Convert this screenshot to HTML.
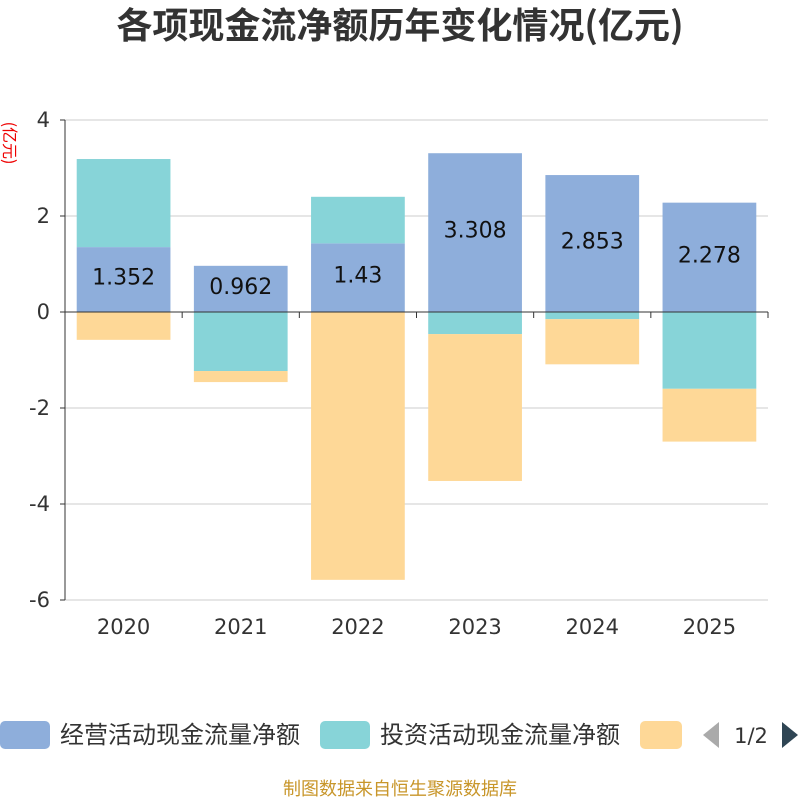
<!DOCTYPE html>
<html><head><meta charset="utf-8"><style>
body{margin:0;background:#fff;}
svg text{font-family:"DejaVu Sans","Noto Sans CJK SC",sans-serif;}
.cjk{font-family:"Noto Sans CJK SC",sans-serif;}
</style></head><body>
<svg id="c" width="800" height="800" xmlns="http://www.w3.org/2000/svg">
<text class="cjk" x="400" y="38" text-anchor="middle" font-size="36" font-weight="bold" fill="#333">各项现金流净额历年变化情况(亿元)</text>
<text class="cjk" transform="translate(4,143) rotate(90)" text-anchor="middle" font-size="16" fill="#e00">(亿元)</text>
<g id="grid"></g><g id="bars"></g><g id="axes"></g>
<g>
<rect x="0" y="721" width="50" height="28" rx="5" fill="#8eaedb"/>
<text class="cjk" x="60" y="743" font-size="24" fill="#333">经营活动现金流量净额</text>
<rect x="320" y="721" width="50" height="28" rx="5" fill="#87d4d8"/>
<text class="cjk" x="380" y="743" font-size="24" fill="#333">投资活动现金流量净额</text>
<rect x="640" y="721" width="42" height="28" rx="5" fill="#fed897"/>
<polygon points="719,722 719,748 703,735" fill="#aaa"/>
<text x="751" y="743" text-anchor="middle" font-size="21" fill="#333">1/2</text>
<polygon points="782,722 782,748 798,735" fill="#2f4554"/>
</g>
<text class="cjk" x="400" y="795" text-anchor="middle" font-size="18" fill="#c8962a">制图数据来自恒生聚源数据库</text>
</svg>
<script>
const categories=["2020","2021","2022","2023","2024","2025"];
const operating=[1.352,0.962,1.43,3.308,2.853,2.278];
const investing=[1.835,-1.23,0.97,-0.46,-0.15,-1.60];
const financing=[-0.58,-0.23,-5.58,-3.06,-0.94,-1.10];
const yTicks=[4,2,0,-2,-4,-6];
const NS="http://www.w3.org/2000/svg";
const L=65,R=768,T=120,B=600,yMax=4,yMin=-6;
const y=v=>T+(yMax-v)/(yMax-yMin)*(B-T);
const band=(R-L)/categories.length;
const xc=i=>L+band*(i+0.5);
function mk(tag,at,parent){const e=document.createElementNS(NS,tag);for(const k in at)e.setAttribute(k,at[k]);document.getElementById(parent).appendChild(e);return e;}
yTicks.forEach(t=>{
 const g=mk('line',{x1:L,x2:R,y1:y(t),y2:y(t),stroke:'#ccc','stroke-width':1},'grid');
 
 
 const tl=mk('text',{x:L-15,y:y(t)+7,'text-anchor':'end','font-size':21,fill:'#333'},'axes');
 tl.textContent=t;
 
 
 const tk=mk('line',{x1:L-5,x2:L,y1:y(t),y2:y(t),stroke:'#333'},'axes');
 
 
});
const ya=mk('line',{x1:L,x2:L,y1:T,y2:B,stroke:'#333'},'axes');


const series=[[operating,'#8eaedb','operating'],[investing,'#87d4d8','investing'],[financing,'#fed897','financing']];
const bw=band*0.8;
categories.forEach((c,i)=>{
 let pos=0,neg=0;
 series.forEach(([arr,col,nm])=>{
  const v=arr[i];let a,b;
  if(v>=0){a=pos;b=pos+v;pos=b;}else{a=neg;b=neg+v;neg=b;}
  const r=mk('rect',{x:xc(i)-bw/2,y:Math.min(y(a),y(b)),width:bw,height:Math.abs(y(a)-y(b)),fill:col},'bars');
  
  
 });
 const lb=mk('text',{x:xc(i),y:(y(0)+y(operating[i]))/2+5,'text-anchor':'middle','font-size':22,fill:'#111'},'bars');
 lb.textContent=operating[i];
 
 
 const xl=mk('text',{x:xc(i),y:634,'text-anchor':'middle','font-size':21,fill:'#333'},'axes');
 xl.textContent=c;
 
 
});
for(let i=0;i<=categories.length;i++){
 const t=mk('line',{x1:L+band*i,x2:L+band*i,y1:y(0),y2:y(0)+6,stroke:'#333'},'axes');
 
 
}
const xa=mk('line',{x1:L,x2:R,y1:y(0),y2:y(0),stroke:'#333'},'axes');


</script>
</body></html>
